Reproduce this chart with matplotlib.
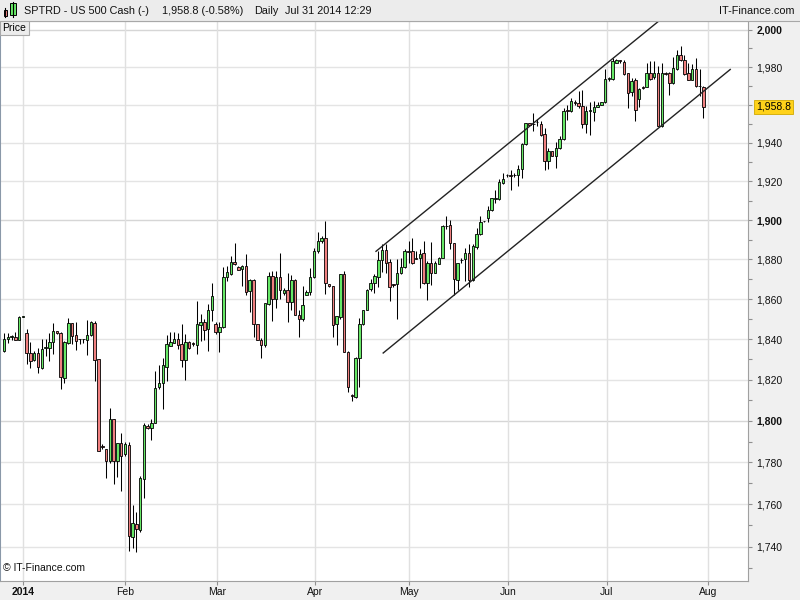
import matplotlib
matplotlib.use('Agg')
import matplotlib.pyplot as plt
from matplotlib.patches import Rectangle
from matplotlib.ticker import FixedLocator, NullFormatter
import numpy as np

plt.rcParams['font.family'] = ['Liberation Sans', 'DejaVu Sans']

# header texts
title = 'SPTRD - US 500 Cash (-)'
last_text = '1,958.8 (-0.58%)'
period = 'Daily'
stamp = 'Jul 31 2014 12:29'

# daily OHLC, one bar per session (Sunday sessions included)
opens = [
    1834.2, 1840.3, 1841.1, 1841.3, 1839.7, 1851.2, 1842.9, 1833.4, 1829.8, 1833.1,
    1826.0, 1835.6, 1835.9, 1838.7, 1844.1, 1843.3, 1821.1, 1838.3, 1847.9, 1842.0,
    1840.0, 1840.1, 1839.7, 1842.0, 1848.2, 1830.1, 1787.8, 1786.4, 1780.8, 1800.8,
    1780.8, 1789.2, 1784.0, 1788.3, 1744.7, 1750.8, 1747.8, 1771.9, 1797.4, 1796.3,
    1799.2, 1816.5, 1818.6, 1826.5, 1836.7, 1838.3, 1840.0, 1837.5, 1829.8, 1838.8,
    1837.9, 1837.2, 1847.0, 1848.7, 1845.2, 1854.5, 1847.4, 1843.8, 1846.2, 1871.2,
    1872.8, 1878.7, 1876.2, 1875.0, 1876.7, 1863.9, 1869.8, 1847.7, 1839.7, 1837.2,
    1857.6, 1871.8, 1860.0, 1871.2, 1863.1, 1864.6, 1858.6, 1869.8, 1852.3, 1850.2,
    1861.9, 1863.6, 1871.2, 1884.5, 1889.2, 1890.9, 1867.8, 1866.8, 1847.7, 1851.2,
    1872.7, 1833.9, 1812.4, 1811.7, 1830.9, 1847.7, 1854.8, 1865.3, 1868.1, 1871.2,
    1879.5, 1884.7, 1878.8, 1867.3, 1867.8, 1873.2, 1876.2, 1884.2, 1884.2, 1880.8,
    1880.8, 1883.3, 1868.1, 1878.3, 1873.2, 1877.8, 1880.8, 1896.9, 1897.7, 1888.4,
    1869.8, 1879.7, 1880.3, 1883.3, 1869.8, 1886.4, 1893.0, 1899.4, 1901.1, 1905.3,
    1910.8, 1910.8, 1919.1, 1923.0, 1922.9, 1923.0, 1923.0, 1926.1, 1939.2, 1950.3,
    1949.6, 1950.7, 1949.8, 1944.5, 1930.6, 1935.8, 1933.2, 1937.2, 1941.9, 1956.8,
    1956.8, 1961.4, 1960.8, 1959.1, 1949.8, 1956.8, 1956.4, 1958.7, 1959.8, 1961.2,
    1973.6, 1973.6, 1982.4, 1983.3, 1982.6, 1976.8, 1966.5, 1973.2, 1963.0, 1969.2,
    1969.3, 1976.8, 1974.5, 1976.8, 1948.6, 1976.5, 1976.8, 1971.5, 1978.9, 1986.5,
    1983.9, 1976.8, 1973.2, 1978.9, 1970.0, 1969.3,
]
highs = [
    1842.9, 1843.3, 1842.0, 1843.6, 1851.5, 1851.5, 1845.2, 1838.7, 1834.2, 1835.9,
    1840.3, 1840.3, 1843.3, 1847.9, 1844.3, 1843.8, 1839.2, 1850.7, 1848.2, 1848.5,
    1840.3, 1840.3, 1849.8, 1849.0, 1849.0, 1830.3, 1788.8, 1786.6, 1806.4, 1801.0,
    1789.4, 1793.9, 1789.6, 1789.6, 1759.5, 1756.3, 1773.5, 1798.9, 1798.4, 1800.8,
    1824.4, 1827.2, 1830.5, 1842.0, 1843.6, 1843.6, 1842.9, 1847.4, 1842.8, 1839.0,
    1838.7, 1858.9, 1852.8, 1850.3, 1857.7, 1868.1, 1848.7, 1848.7, 1876.2, 1876.5,
    1881.6, 1888.3, 1876.5, 1877.1, 1882.8, 1869.9, 1870.0, 1847.8, 1840.8, 1858.1,
    1873.5, 1874.0, 1874.0, 1883.3, 1865.6, 1873.2, 1872.3, 1870.0, 1854.8, 1866.8,
    1864.8, 1875.7, 1885.8, 1893.9, 1891.7, 1899.4, 1867.8, 1866.8, 1851.5, 1872.7,
    1874.1, 1834.0, 1812.9, 1831.0, 1850.7, 1854.8, 1865.3, 1870.2, 1872.4, 1884.2,
    1887.9, 1887.9, 1880.0, 1867.8, 1880.0, 1880.8, 1885.4, 1889.3, 1890.9, 1884.2,
    1885.4, 1889.3, 1879.1, 1888.9, 1879.1, 1881.3, 1897.7, 1901.9, 1899.9, 1888.4,
    1878.3, 1880.5, 1885.9, 1887.9, 1887.6, 1896.0, 1901.9, 1899.7, 1907.0, 1911.3,
    1915.6, 1921.0, 1924.3, 1923.6, 1926.0, 1924.3, 1928.4, 1939.8, 1950.6, 1950.3,
    1955.6, 1952.4, 1951.2, 1947.7, 1937.1, 1935.8, 1940.6, 1943.3, 1958.2, 1959.9,
    1963.5, 1962.6, 1967.0, 1967.8, 1959.1, 1961.5, 1961.7, 1961.2, 1961.2, 1978.9,
    1974.6, 1984.7, 1984.2, 1983.9, 1983.9, 1976.8, 1974.1, 1974.1, 1968.8, 1969.7,
    1982.1, 1983.0, 1983.3, 1980.3, 1982.1, 1977.1, 1977.1, 1985.6, 1989.2, 1991.5,
    1986.5, 1982.1, 1981.6, 1984.7, 1978.9, 1969.7,
]
lows = [
    1833.8, 1838.3, 1839.7, 1839.5, 1839.5, 1851.0, 1827.7, 1826.0, 1829.3, 1823.2,
    1825.5, 1831.8, 1829.3, 1832.6, 1842.4, 1815.3, 1818.6, 1837.5, 1837.5, 1834.7,
    1837.5, 1838.3, 1832.1, 1841.6, 1819.4, 1785.4, 1786.4, 1772.7, 1779.9, 1769.5,
    1773.0, 1766.3, 1783.2, 1737.9, 1739.5, 1737.6, 1747.0, 1762.8, 1796.0, 1790.8,
    1799.0, 1815.3, 1805.6, 1819.4, 1836.5, 1838.0, 1835.1, 1826.5, 1819.9, 1835.4,
    1836.7, 1832.6, 1839.2, 1839.7, 1834.2, 1849.0, 1842.4, 1833.7, 1845.4, 1869.3,
    1872.3, 1877.1, 1874.5, 1866.4, 1862.2, 1853.5, 1841.1, 1839.5, 1830.5, 1836.4,
    1857.2, 1849.0, 1855.6, 1860.2, 1862.2, 1848.5, 1854.4, 1852.0, 1841.1, 1849.0,
    1861.9, 1862.2, 1870.7, 1883.3, 1888.3, 1862.6, 1866.1, 1841.1, 1837.2, 1850.3,
    1833.9, 1814.0, 1809.6, 1810.9, 1816.5, 1847.0, 1854.4, 1864.3, 1863.1, 1866.1,
    1873.7, 1873.2, 1858.9, 1866.1, 1850.3, 1872.4, 1875.7, 1878.3, 1877.9, 1880.0,
    1865.6, 1867.8, 1859.7, 1867.3, 1873.2, 1877.8, 1880.5, 1895.5, 1885.5, 1861.9,
    1864.4, 1878.3, 1869.0, 1866.3, 1869.0, 1885.4, 1892.6, 1898.9, 1898.9, 1904.5,
    1908.7, 1910.1, 1918.7, 1922.4, 1915.6, 1922.2, 1917.4, 1921.7, 1938.9, 1949.0,
    1946.4, 1948.9, 1943.8, 1925.7, 1926.6, 1933.2, 1927.1, 1936.7, 1941.5, 1951.7,
    1956.4, 1959.9, 1958.2, 1947.7, 1945.0, 1944.0, 1951.2, 1958.7, 1959.8, 1960.8,
    1972.3, 1972.9, 1982.1, 1982.4, 1975.9, 1958.2, 1964.4, 1951.2, 1958.7, 1968.3,
    1969.2, 1973.2, 1973.6, 1948.6, 1948.2, 1975.5, 1965.3, 1971.1, 1978.5, 1983.0,
    1975.9, 1973.2, 1972.9, 1969.3, 1964.4, 1953.0,
]
closes = [
    1840.3, 1841.1, 1841.3, 1839.7, 1851.2, 1851.3, 1833.4, 1829.3, 1833.1, 1826.3,
    1835.4, 1835.9, 1838.7, 1844.1, 1842.9, 1821.6, 1838.7, 1847.9, 1841.6, 1839.2,
    1840.1, 1839.9, 1842.0, 1848.5, 1829.6, 1785.6, 1787.3, 1780.8, 1800.8, 1780.4,
    1789.2, 1782.8, 1788.8, 1745.0, 1751.3, 1748.1, 1772.7, 1797.9, 1796.3, 1799.2,
    1816.2, 1818.6, 1827.2, 1837.5, 1838.7, 1840.0, 1837.2, 1829.8, 1838.8, 1835.9,
    1837.7, 1847.4, 1848.7, 1844.6, 1854.6, 1861.7, 1843.8, 1846.2, 1871.2, 1873.7,
    1878.7, 1877.7, 1874.5, 1876.7, 1863.6, 1869.8, 1847.7, 1839.7, 1837.2, 1858.1,
    1871.8, 1860.0, 1871.2, 1864.4, 1864.6, 1858.6, 1869.8, 1852.3, 1850.2, 1857.2,
    1863.6, 1871.2, 1884.5, 1889.5, 1890.9, 1868.3, 1866.8, 1847.0, 1851.5, 1872.7,
    1833.9, 1816.7, 1812.0, 1830.9, 1847.7, 1854.8, 1864.8, 1868.1, 1871.5, 1879.5,
    1884.7, 1878.3, 1865.9, 1867.0, 1873.2, 1876.2, 1884.2, 1884.0, 1878.3, 1880.3,
    1882.8, 1868.1, 1878.3, 1873.2, 1878.3, 1880.8, 1897.2, 1896.9, 1888.4, 1870.2,
    1878.3, 1879.6, 1883.3, 1869.8, 1886.7, 1893.0, 1899.1, 1899.6, 1905.3, 1911.3,
    1911.3, 1919.4, 1921.3, 1923.1, 1922.7, 1923.2, 1926.1, 1939.2, 1950.3, 1949.1,
    1949.8, 1950.8, 1944.2, 1930.6, 1935.8, 1933.2, 1937.2, 1941.9, 1956.8, 1956.7,
    1962.2, 1961.0, 1959.1, 1949.8, 1956.8, 1957.0, 1958.7, 1960.1, 1961.2, 1973.6,
    1973.8, 1983.0, 1983.5, 1983.2, 1976.2, 1966.2, 1972.4, 1957.3, 1968.3, 1969.1,
    1976.8, 1973.6, 1976.8, 1948.6, 1976.8, 1976.4, 1971.5, 1979.4, 1986.5, 1983.9,
    1976.2, 1973.2, 1978.9, 1969.7, 1969.7, 1958.8,
]

# month ticks, in bar positions
month_labels = ['2014', 'Feb', 'Mar', 'Apr', 'May', 'Jun', 'Jul', 'Aug']
month_pos = [5.1, 32.1, 56.3, 82.3, 107.2, 133.4, 159.4, 186.3]

# drawn channel (bar position, price)
upper_x = [98.4, 178.8]
upper_y = [1884.1, 2014.0]
lower_x = [100.3, 192.1]
lower_y = [1833.2, 1978.7]

price_ticks = list(range(1740, 2001, 20))
minor_ticks = list(range(1730, 2001, 20))

o = np.array(opens)
h = np.array(highs)
l = np.array(lows)
c = np.array(closes)
x = np.arange(len(c))

fig = plt.figure(figsize=(8, 6), dpi=100, facecolor='#f0f0f0')
ax = fig.add_axes([0, 19 / 600, 748 / 800, 560 / 600])
ax.set_facecolor('white')
ax.set_yscale('log')
ax.set_ylim(1724.0, 2004.7)
ax.set_xlim(-1.06, 196.8)

# grid
for p in price_ticks:
    ax.axhline(p, color='#d6d6d6' if p % 100 == 0 else '#e4e4e4', lw=1, zorder=0)
for m in month_pos:
    ax.axvline(m, color='#e0e0e0', lw=1, zorder=0)

# candles
up = c >= o
fill = np.where(up, '#66e866', '#f08080')
ax.vlines(x, l, h, color='black', lw=0.75, zorder=3)
body_low = np.minimum(o, c)
body_h = np.maximum(np.abs(c - o), 0.35)
ax.bar(x, body_h, 0.66, bottom=body_low, color=fill, edgecolor='black', linewidth=0.6, zorder=4)

# channel
ax.plot(upper_x, upper_y, color='#222222', lw=1.0, zorder=5)
ax.plot(lower_x, lower_y, color='#222222', lw=1.0, zorder=5)

# y axis on the right
ax.yaxis.tick_right()
ax.yaxis.set_major_locator(FixedLocator(price_ticks))
ax.yaxis.set_minor_locator(FixedLocator(minor_ticks))
ax.yaxis.set_minor_formatter(NullFormatter())
ylabels = ['' if p == 1960 else f'{p:,}' for p in price_ticks]
ax.set_yticks(price_ticks)
texts = ax.set_yticklabels(ylabels)
for p, t in zip(price_ticks, texts):
    if p % 100 == 0:
        t.set_fontweight('bold')
        t.set_fontsize(8.5)
ax.tick_params(axis='y', which='both', direction='out', length=3, width=0.8,
               color='#909090', labelsize=7.5, pad=3, labelcolor='#111111')

ax.set_xticks(month_pos)
xt = ax.set_xticklabels(month_labels)
xt[0].set_fontweight('bold')
xt[0].set_fontsize(9)
ax.tick_params(axis='x', direction='out', length=3, width=0.8, color='#909090',
               labelsize=7.5, pad=1.5, labelcolor='#111111')

for side in ['right', 'bottom', 'top']:
    ax.spines[side].set_color('#a0a0a0')
ax.spines['left'].set_color('#8a98a8')
ax.spines['left'].set_linewidth(1.5)

ax.text(0.003, 0.997, 'Price', transform=ax.transAxes, ha='left', va='top', fontsize=7.5,
        bbox=dict(boxstyle='square,pad=0.25', fc='#ececec', ec='#a8a8a8', lw=0.8), zorder=6)
ax.text(0.004, 0.014, '\u00a9 IT-Finance.com', transform=ax.transAxes, ha='left', va='bottom',
        fontsize=7.5, color='#111111', zorder=6)
ax.text(1.011, c[-1], f'{c[-1]:,.1f}', transform=ax.get_yaxis_transform(), ha='left', va='center',
        fontsize=7.5, clip_on=False, zorder=7,
        bbox=dict(boxstyle='square,pad=0.2', fc='#ffd21a', ec='#d0a800', lw=0.6))

# header bar
hdr = fig.add_axes([0, 1 - 20.5 / 600, 1, 20.5 / 600])
hdr.set_xlim(0, 800)
hdr.set_ylim(20.5, 0)
hdr.set_facecolor('#ececec')
hdr.set_xticks([])
hdr.set_yticks([])
for side in ['left', 'right', 'top']:
    hdr.spines[side].set_visible(False)
hdr.spines['bottom'].set_color('#a8a8a8')
# small candle icon
hdr.plot([5.3, 5.3], [8.3, 17.3], color='black', lw=0.8)
hdr.add_patch(Rectangle((3.6, 10), 3.4, 6, fc='#f08080', ec='black', lw=0.7))
hdr.plot([13, 13], [1.7, 17.3], color='black', lw=0.8)
hdr.add_patch(Rectangle((10.3, 3.3), 5.4, 11.7, fc='#66e866', ec='black', lw=0.7))
hdr.text(24, 10.5, title, va='center', ha='left', fontsize=7.8, color='#111111')
hdr.text(162, 10.5, last_text, va='center', ha='left', fontsize=7.8, color='#111111')
hdr.text(254, 10.5, period, va='center', ha='left', fontsize=7.8, color='#111111')
hdr.text(285, 10.5, stamp, va='center', ha='left', fontsize=7.8, color='#111111')
hdr.text(795, 10.5, 'IT-Finance.com', va='center', ha='right', fontsize=7.8, color='#111111')

fig.savefig('out.png', dpi=100, facecolor=fig.get_facecolor())
